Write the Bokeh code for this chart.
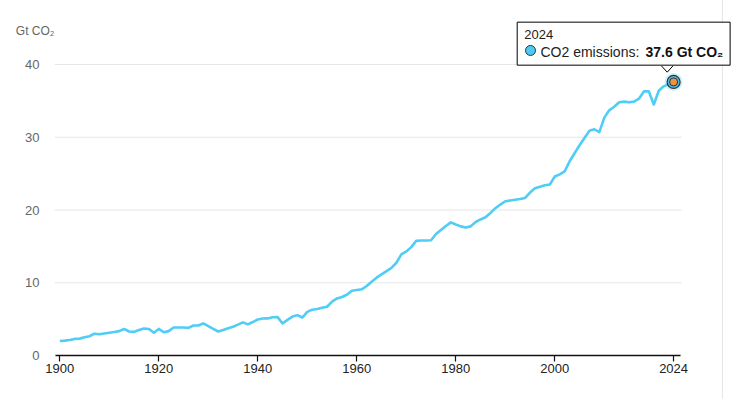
from bokeh.plotting import figure
from bokeh.models import Range1d, FixedTicker, Label, LinearAxis
from bokeh.embed import file_html
from bokeh.resources import INLINE

# ---------------- data ----------------
years = list(range(1900, 2025))
emissions = [
    2.00, 2.05, 2.12, 2.28, 2.32, 2.50, 2.65, 3.00, 2.92, 3.02,   # 1900-1909
    3.12, 3.22, 3.35, 3.65, 3.30, 3.25, 3.50, 3.70, 3.65, 3.12,   # 1910-1919
    3.65, 3.20, 3.35, 3.85, 3.85, 3.85, 3.80, 4.12, 4.12, 4.42,   # 1920-1929
    4.05, 3.65, 3.30, 3.50, 3.75, 3.95, 4.25, 4.55, 4.28, 4.60,   # 1930-1939
    4.95, 5.08, 5.10, 5.25, 5.27, 4.40, 4.90, 5.35, 5.55, 5.22,   # 1940-1949
    6.00, 6.30, 6.40, 6.55, 6.70, 7.40, 7.85, 8.05, 8.35, 8.90,   # 1950-1959
    9.00, 9.10, 9.55, 10.15, 10.70, 11.15, 11.60, 12.05, 12.75, 13.90,  # 1960-1969
    14.30, 14.90, 15.75, 15.80, 15.80, 15.85, 16.70, 17.25, 17.80, 18.30,  # 1970-1979
    18.00, 17.75, 17.60, 17.75, 18.35, 18.70, 19.00, 19.60, 20.25, 20.75,  # 1980-1989
    21.20, 21.30, 21.40, 21.50, 21.65, 22.40, 23.00, 23.20, 23.40, 23.50,  # 1990-1999
    24.60, 24.90, 25.30, 26.70, 27.80, 28.90, 29.90, 30.90, 31.10, 30.70,  # 2000-2009
    32.70, 33.70, 34.20, 34.80, 34.90, 34.80, 34.90, 35.30, 36.30, 36.30,  # 2010-2019
    34.50, 36.40, 37.00, 37.30, 37.60,                                     # 2020-2024
]
assert len(years) == len(emissions)

x_ticks = [1900, 1920, 1940, 1960, 1980, 2000, 2024]
y_ticks = [0, 10, 20, 30, 40]
unit_label = "Gt CO\u2082"
series_name = "CO2 emissions"

# ---------------- layout (pixels) ----------------
W, H = 737, 399
BL, BR, BT, BB = 54, 0, 0, 44
FW, FH = W - BL - BR, H - BT - BB
PX_PER_YEAR = 4.95
PX_PER_UNIT = 7.275
FIRST_TICK_PX = 5.3          # distance of first year from frame left
GRID_END_PX = 627            # gridlines end (from frame left)
AXIS_END_PX = 626
UNIT_LABEL_TOP_PX = 30       # centre of unit label from frame top

X0 = years[0] - FIRST_TICK_PX / PX_PER_YEAR
X1 = X0 + FW / PX_PER_YEAR
Y0 = 0
Y1 = FH / PX_PER_UNIT

def dx(px):
    return px / PX_PER_YEAR

def dy(px):
    return px / PX_PER_UNIT

LINE_COLOR = "#4fcdf6"

p = figure(width=W, height=H, output_backend="svg", toolbar_location=None,
           x_range=Range1d(X0, X1), y_range=Range1d(Y0, Y1),
           min_border_left=BL, min_border_right=BR,
           min_border_top=BT, min_border_bottom=BB)
p.outline_line_color = None
p.background_fill_alpha = 0
p.border_fill_alpha = 0
p.styles = {"background": "linear-gradient(90deg, #ffffff 0px, #ffffff 722px, #e6e6e6 722px, #e6e6e6 723px, #ffffff 723px)"}

# grid (drawn as segments so they stop before the right edge)
p.xgrid.visible = False
p.ygrid.visible = False
gx1 = X0 + dx(GRID_END_PX)
p.segment(x0=[X0] * len(y_ticks), y0=y_ticks, x1=[gx1] * len(y_ticks), y1=y_ticks,
          line_color="#e6e6e6", line_width=1)

# x axis
xa = p.xaxis[0]
xa.ticker = FixedTicker(ticks=x_ticks)
xa.bounds = (X0 + dx(0.5), X0 + dx(AXIS_END_PX))
xa.axis_line_color = "#111111"
xa.axis_line_width = 1.5
xa.major_tick_line_color = "#111111"
xa.major_tick_line_width = 1.2
xa.major_tick_out = 6
xa.major_tick_in = 0
xa.minor_tick_line_color = None
xa.major_label_text_font = "Liberation Sans"
xa.major_label_text_font_size = "13px"
xa.major_label_text_color = "#222222"
xa.major_label_standoff = 2

# y axis
ya = p.yaxis[0]
ya.ticker = FixedTicker(ticks=y_ticks)
ya.axis_line_color = None
ya.major_tick_line_color = None
ya.major_tick_out = 0
ya.major_tick_in = 0
ya.minor_tick_line_color = None
ya.minor_tick_out = 0
ya.major_label_text_font = "Liberation Sans"
ya.major_label_text_font_size = "13px"
ya.major_label_text_color = "#666666"
ya.major_label_standoff = 15

# unit label: an outer left axis with a single labelled tick
unit_y = Y1 - dy(UNIT_LABEL_TOP_PX)
ua = LinearAxis(ticker=FixedTicker(ticks=[unit_y]),
                major_label_overrides={unit_y: unit_label},
                axis_line_color=None, major_tick_line_color=None,
                minor_tick_line_color=None, major_tick_out=0, major_tick_in=0,
                minor_tick_out=0, minor_tick_in=0,
                major_label_text_font="Liberation Sans", major_label_text_font_size="12px",
                major_label_text_color="#666666", major_label_standoff=-32)
p.add_layout(ua, "left")

# line
p.line(years, emissions, line_color=LINE_COLOR, line_width=2.6, line_join="round")

# highlighted last point
px_, py_ = years[-1], emissions[-1]
p.scatter([px_], [py_], size=18, fill_color=LINE_COLOR, fill_alpha=0.3, line_color=None)
p.scatter([px_], [py_], size=13, fill_color="#4fb8e0", line_color="#333333", line_width=1.2)
p.scatter([px_], [py_], size=8, fill_color="#f0923b", line_color="#333333", line_width=1)

# tooltip box
box = Label(x=px_, y=py_, x_offset=-156.4, y_offset=59.8,
            text=str(years[-1]), text_font="Liberation Sans", text_font_size="13px",
            text_color="#222222", text_align="left", text_baseline="top",
            background_fill_color="white", border_line_color="black", border_line_width=1,
            padding=dict(left=7, right=177, top=8, bottom=26))
p.add_layout(box)

# tooltip pointer
tri_x = [px_ + dx(-12.1), px_ + dx(-6.4), px_ + dx(-0.7)]
tri_y = [py_ + dy(16.0), py_ + dy(9.8), py_ + dy(16.0)]
p.patch(tri_x, tri_y, fill_color="white", line_color=None, level="overlay")
p.line(tri_x, tri_y, line_color="black", line_width=1, level="overlay")

# tooltip marker
p.scatter([px_ + dx(530 - 673.1)], [py_ + dy(81.5 - 50)], size=10,
          fill_color="#4fc8f2", line_color="#333333", line_width=1, level="overlay")

p.add_layout(Label(x=px_, y=py_, x_offset=540 - 673.1, y_offset=30,
                   text=series_name + ": ", text_font="Liberation Sans", text_font_size="14px",
                   text_color="#222222", text_align="left", text_baseline="alphabetic"))
p.add_layout(Label(x=px_, y=py_, x_offset=645 - 673.1, y_offset=30,
                   text=f"{emissions[-1]:.1f} {unit_label}", text_font="Liberation Sans",
                   text_font_size="14px", text_font_style="bold",
                   text_color="#111111", text_align="left", text_baseline="alphabetic"))

open("out.html", "w").write(file_html(p, INLINE))
